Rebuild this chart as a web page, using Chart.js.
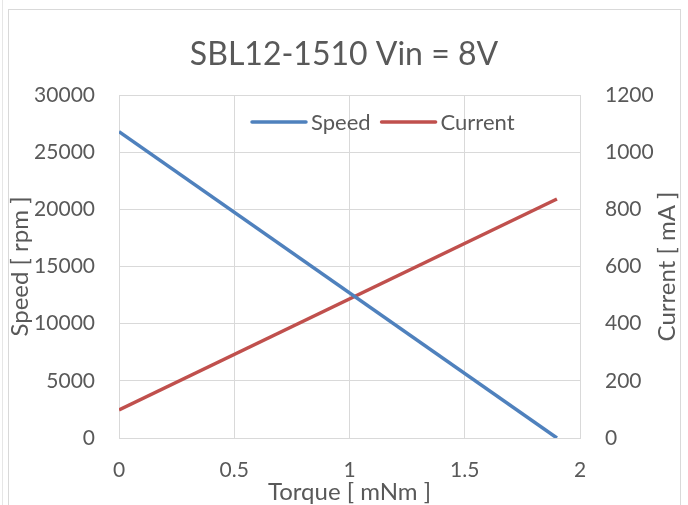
<!DOCTYPE html>
<html>
<head>
<meta charset="utf-8">
<script src="https://cdn.jsdelivr.net/npm/chart.js@4/dist/chart.umd.min.js"></script>
<style>
  html, body { margin: 0; padding: 0; background: #ffffff; overflow: hidden; }
  #wrap { position: relative; width: 688px; height: 505px; }
  #frame { position: absolute; left: 8px; top: 9px; width: 673px; height: 520px; border: 1px solid #D9D9D9; box-sizing: border-box; }
  #edge { position: absolute; left: 2px; top: 0; width: 1px; height: 505px; background: #E6E6E6; }
  canvas { position: absolute; left: 0; top: 0; }
</style>
</head>
<body>
<div id="wrap">
  <div id="edge"></div>
  <div id="frame"></div>
  <canvas id="c" width="688" height="505"></canvas>
</div>
<script>
// ---- data ----
const chartTitle = "SBL12-1510 Vin = 8V";
const xTitle = "Torque [ mNm ]";
const yLeftTitle = "Speed [ rpm ]";
const yRightTitle = "Current [ mA ]";
const torque = [0, 1.9];
const speed = [26800, 0];
const current = [98, 836];
const seriesNames = ["Speed", "Current"];

const FONT = "Lato, 'Open Sans', sans-serif";
const TXT = "#595959";
const GRID = "#D9D9D9";

const extrasPlugin = {
  id: 'extras',
  afterDraw(chart) {
    const ctx = chart.ctx;
    const a = chart.chartArea;
    // right axis title, reading bottom-to-top
    ctx.save();
    ctx.translate(667, (a.top + a.bottom) / 2);
    ctx.rotate(-Math.PI / 2);
    ctx.font = "24px " + FONT;
    ctx.fillStyle = TXT;
    ctx.textAlign = 'center';
    ctx.textBaseline = 'middle';
    ctx.fillText(yRightTitle, 0, 0);
    ctx.restore();
    // legend inside the plot area
    ctx.save();
    ctx.font = "22px " + FONT;
    ctx.textBaseline = 'middle';
    ctx.textAlign = 'left';
    let x = 252;
    const y = 122;
    chart.data.datasets.forEach(ds => {
      ctx.strokeStyle = ds.borderColor;
      ctx.lineWidth = 3.5;
      ctx.lineCap = 'round';
      ctx.beginPath();
      ctx.moveTo(x, y);
      ctx.lineTo(x + 54, y);
      ctx.stroke();
      x += 59;
      ctx.fillStyle = TXT;
      ctx.fillText(ds.label, x, y + 1);
      x += ctx.measureText(ds.label).width + 11;
    });
    ctx.restore();
  }
};

const plain = v => String(v);

new Chart(document.getElementById('c'), {
  type: 'scatter',
  data: {
    datasets: [
      {
        label: seriesNames[0],
        data: torque.map((t, i) => ({ x: t, y: speed[i] })),
        showLine: true,
        borderColor: '#4F81BD',
        backgroundColor: '#4F81BD',
        borderWidth: 3.5,
        pointRadius: 0,
        yAxisID: 'y'
      },
      {
        label: seriesNames[1],
        data: torque.map((t, i) => ({ x: t, y: current[i] })),
        showLine: true,
        borderColor: '#C0504D',
        backgroundColor: '#C0504D',
        borderWidth: 3.5,
        pointRadius: 0,
        yAxisID: 'y1'
      }
    ]
  },
  options: {
    responsive: false,
    animation: false,
    layout: { padding: 0 },
    plugins: {
      title: {
        display: true,
        text: chartTitle,
        color: TXT,
        font: { family: FONT, size: 32, weight: 'normal', lineHeight: 1.2 },
        padding: { top: 35, bottom: 21.6 }
      },
      legend: { display: false },
      tooltip: { enabled: false }
    },
    scales: {
      x: {
        type: 'linear',
        min: 0, max: 2,
        ticks: { stepSize: 0.5, color: TXT, padding: 20, font: { family: FONT, size: 21 }, callback: plain },
        grid: { color: GRID, drawTicks: false },
        border: { color: GRID },
        title: { display: true, text: xTitle, color: TXT, font: { family: FONT, size: 24, lineHeight: 1.1 }, padding: { top: 0, bottom: 0 } },
        afterFit(s) { s.height = 67; }
      },
      y: {
        position: 'left',
        min: 0, max: 30000,
        ticks: { stepSize: 5000, color: TXT, padding: 24, font: { family: FONT, size: 21 }, callback: plain },
        grid: { color: GRID, drawTicks: false },
        border: { color: GRID },
        title: { display: true, text: yLeftTitle, color: TXT, font: { family: FONT, size: 24, lineHeight: 1.1 }, padding: { top: 7, bottom: 0 } },
        afterFit(s) { s.width = 119; }
      },
      y1: {
        position: 'right',
        min: 0, max: 1200,
        ticks: { stepSize: 200, color: TXT, padding: 25, font: { family: FONT, size: 21 }, callback: plain },
        grid: { drawOnChartArea: false, drawTicks: false },
        border: { color: GRID },
        afterFit(s) { s.width = 108; }
      }
    }
  },
  plugins: [extrasPlugin]
});
</script>
</body>
</html>
